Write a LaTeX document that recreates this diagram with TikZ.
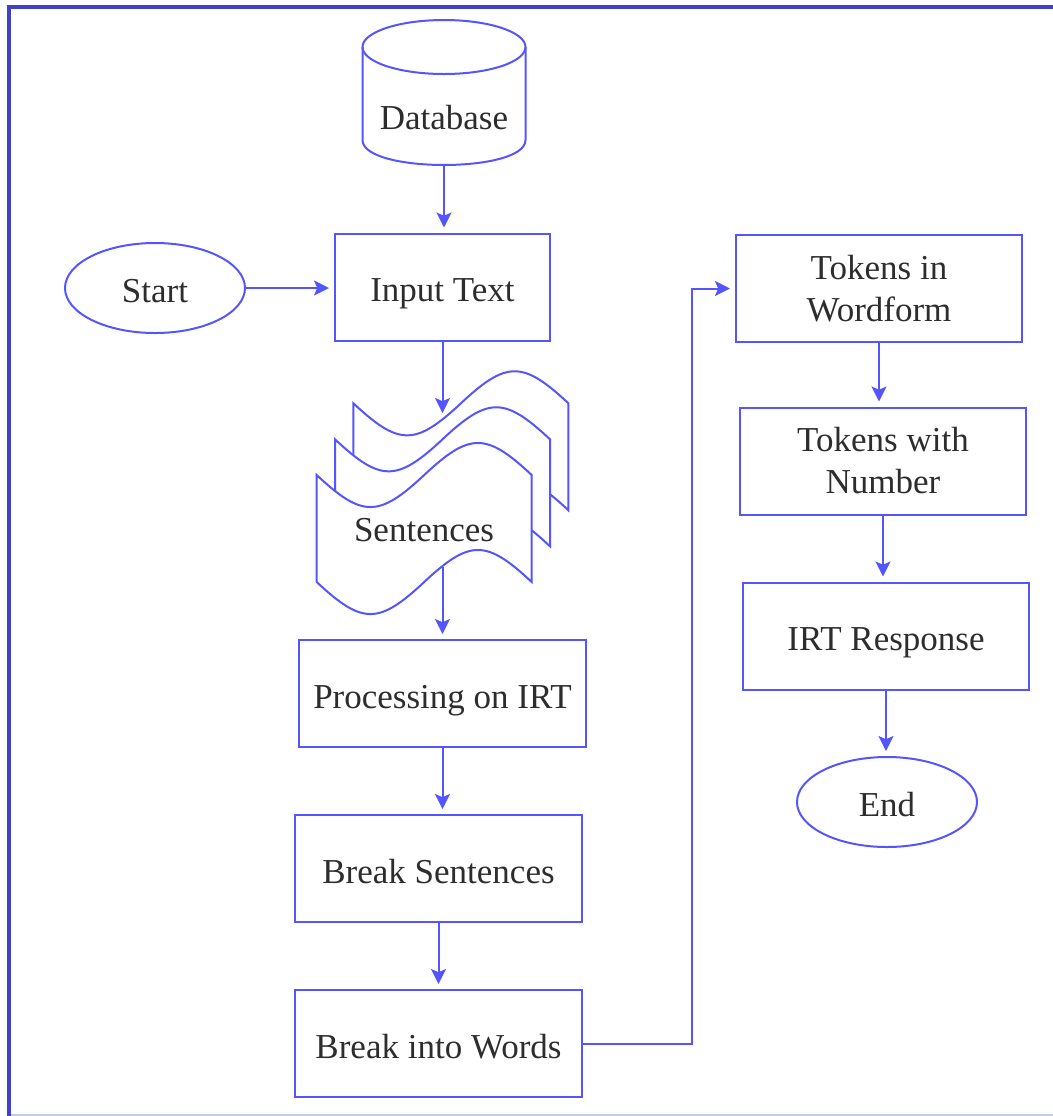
\documentclass[tikz,border=0pt]{standalone}
\usepackage{fontspec}
\setmainfont{Liberation Serif}
\usetikzlibrary{positioning,calc,arrows.meta,shapes.geometric}
\definecolor{flowblue}{RGB}{85,85,255}
\definecolor{frameblue}{RGB}{64,64,204}
\definecolor{framelight}{RGB}{200,200,235}
\definecolor{textgray}{RGB}{45,45,45}
\tikzset{font=\fontsize{17.5}{21}\selectfont}

% one sheet of the stacked tape symbol, corner at (#1,#2)
\newcommand{\tapesheet}[2]{%
  \draw[sheet, shift={(#1,#2)}] (0,0) .. controls (45.6,42.7) and (61.9,42.7) .. (107.5,0)
    .. controls (153.1,-42.7) and (169.4,-42.7) .. (215,0) -- (215,107)
    .. controls (169.4,64.3) and (153.1,64.3) .. (107.5,107)
    .. controls (61.9,149.7) and (45.6,149.7) .. (0,107) -- cycle;}

\begin{document}
\begin{tikzpicture}[x=0.5pt, y=-0.5pt,
    every node/.style={text=textgray, align=center, text height=16pt, text depth=1.2pt},
    twoline/.style={text height=, text depth=},
    procbox/.style={draw=flowblue, line width=1pt, minimum width=143.5pt, minimum height=53.5pt, inner sep=2pt},
    terminal/.style={draw=flowblue, line width=1pt, ellipse, minimum width=90pt, minimum height=45pt, inner sep=0pt},
    sheet/.style={draw=flowblue, line width=1pt, fill=white},
    flow/.style={draw=flowblue, line width=1pt, -{Stealth[length=7.5pt, width=7.5pt, inset=1.6pt]}, shorten >=2.5pt}]
	\useasboundingbox (0,0) rectangle (1053,1116);

	% frame
	\draw[framelight, line width=0.6pt] (8,1115) -- (1053,1115);
	\draw[frameblue, line width=2pt] (8.5,1116) -- (8.5,7) -- (1053,7);

	% database cylinder
	\draw[flowblue, line width=1pt] (444,47) ellipse [x radius=81.5, y radius=27];
	\draw[flowblue, line width=1pt] (362.5,47) -- (362.5,140)
	  .. controls (362.5,173.3) and (525.5,173.3) .. (525.5,140) -- (525.5,47);
	\node[minimum width=81.5pt, minimum height=50pt, inner sep=0pt] (db) at (444,115) {Database};

	% left column
	\node[terminal] (start) at (155,288) {Start};
	\node[procbox, minimum width=107.5pt] (inp) at (442.5,287) {Input Text};

	\tapesheet{353.4}{403.3}
	\tapesheet{335}{439.3}
	\tapesheet{316.7}{475}
	\node (sent) at (424,527) {Sentences};
	\coordinate (sent-in) at (442.5,418);
	\coordinate (sent-out) at (442.5,567);

	\node[procbox] (proc) at (442.5,693.5) {Processing on IRT};
	\node[procbox] (brk) at (438.5,868.5) {Break Sentences};
	\node[procbox] (words) at (438.5,1043.5) {Break into Words};

	% right column
	\node[procbox, twoline, minimum width=143pt] (tokw) at (879,288.5) {Tokens in\\Wordform};
	\node[procbox, twoline, minimum width=143pt] (toknum) at (883,461) {Tokens with\\Number};
	\node[procbox, minimum width=143pt] (irt) at (886,636) {IRT Response};
	\node[terminal] (end) at (887,802) {End};

	\coordinate (elbow) at (692,1043.5);

	\draw[flow] (db.south) -- (db.south |- inp.north);
	\draw[flow] (start.east) -- (start.east -| inp.west);
	\draw[flow] (inp.south) -- (sent-in);
	\draw[flow] (sent-out) -- (sent-out |- proc.north);
	\draw[flow] (proc.south) -- (proc.south |- brk.north);
	\draw[flow] (brk.south) -- (brk.south |- words.north);
	\draw[flow] (words.east) -- (elbow) |- (tokw.west);
	\draw[flow] (tokw.south) -- (tokw.south |- toknum.north);
	\draw[flow] (toknum.south) -- (toknum.south |- irt.north);
	\draw[flow] (irt.south) -- (irt.south |- end.north);
\end{tikzpicture}
\end{document}
